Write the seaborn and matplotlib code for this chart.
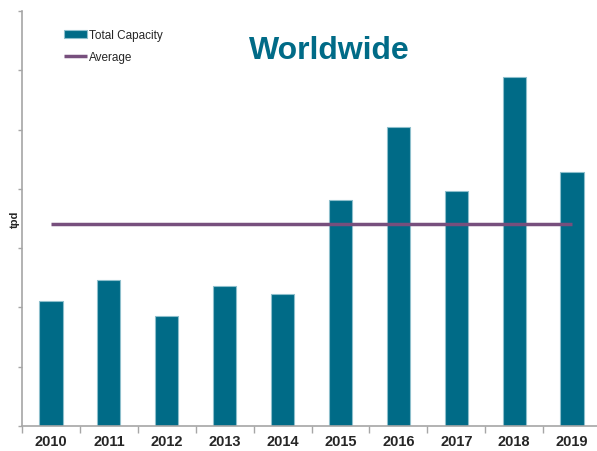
import matplotlib
matplotlib.use("Agg")
import matplotlib.pyplot as plt
import seaborn as sns
import numpy as np
import pandas as pd
from matplotlib.ticker import FixedLocator

# data (units = y-axis tick intervals, no labels shown)
years = ["2010", "2011", "2012", "2013", "2014", "2015", "2016", "2017", "2018", "2019"]
capacity = [2.11, 2.46, 1.85, 2.36, 2.23, 3.81, 5.04, 3.97, 5.88, 4.29]
avg = np.mean(capacity)

teal = "#006B87"
purple = "#774F7D"
grey = "#A6A6A6"

df = pd.DataFrame({"year": years, "capacity": capacity})

sns.set_style("white")
plt.rcParams["font.family"] = ["Liberation Sans", "DejaVu Sans"]

fig = plt.figure(figsize=(5.97, 4.52), dpi=100)
ax = fig.add_axes([22 / 597, 1 - 427 / 452, 579 / 597, 415 / 452])

sns.barplot(data=df, x="year", y="capacity", color=teal, width=0.4,
            saturation=1, edgecolor="#8DBFCC", linewidth=0.8,
            label="Total Capacity", ax=ax)
ax.hlines(avg, 0, len(years) - 1, color=purple, linewidth=2.5, label="Average")

ax.set_ylim(0, 7)
ax.set_xlim(-0.5, len(years) - 0.5)
ax.set_yticks(range(0, 8))
ax.set_yticklabels([])
ax.tick_params(axis="y", which="major", left=True, length=3, color=grey, width=1)
ax.tick_params(axis="x", which="major", length=0, pad=6)
ax.xaxis.set_minor_locator(FixedLocator(np.arange(-0.5, len(years), 1)))
ax.tick_params(axis="x", which="minor", bottom=True, length=5, color=grey, width=1)
for lbl in ax.get_xticklabels():
    lbl.set_fontweight("bold")
    lbl.set_fontsize(10.5)

for s in ["top", "right"]:
    ax.spines[s].set_visible(False)
for s in ["left", "bottom"]:
    ax.spines[s].set_color(grey)
    ax.spines[s].set_linewidth(1.2)

ax.set_xlabel("")
ax.set_ylabel("tpd", fontsize=8, fontweight="bold", va="center")
ax.yaxis.set_label_coords(-0.013, 0.5)

ax.text(0.53, 0.905, "Worldwide", transform=ax.transAxes, ha="center", va="center",
        fontsize=23, fontweight="bold", color=teal)

handles, labels = ax.get_legend_handles_labels()
order = [labels.index("Total Capacity"), labels.index("Average")]
ax.legend([handles[i] for i in order], [labels[i] for i in order],
          loc="upper left", bbox_to_anchor=(0.064, 0.968), frameon=False,
          fontsize=8.5, handlelength=2.0, handleheight=0.7, handletextpad=0.1,
          labelspacing=0.85, borderaxespad=0)

fig.savefig("out.png", dpi=100)
